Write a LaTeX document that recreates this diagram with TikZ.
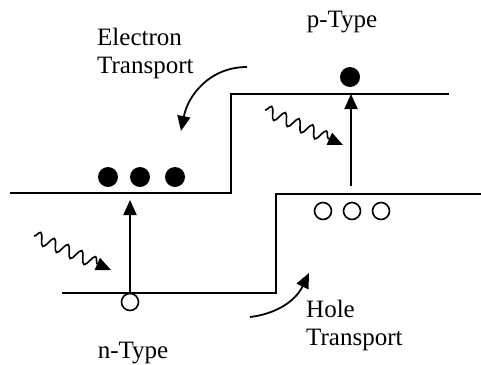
\documentclass[tikz,border=0pt]{standalone}
\usepackage{fontspec}
\setmainfont{Liberation Serif}
\usetikzlibrary{arrows.meta,decorations.pathmorphing}
\begin{document}
\begin{tikzpicture}[x=1pt,y=-1pt,
  band/.style={line width=2pt},
  tip/.style={-{Triangle[length=15pt,width=13pt]}},
  vert/.style={line width=2pt,tip},
  wave/.style={line width=1.6pt,decorate,decoration={snake,segment length=15pt,amplitude=6pt,post length=12pt}},
  curv/.style={line width=1.8pt,tip},
  elec/.style={circle,fill=black,minimum size=20pt,inner sep=0pt},
  hole/.style={circle,draw=black,line width=1.6pt,minimum size=17pt,inner sep=0pt},
  lab/.style={font=\fontsize{25}{28}\selectfont,align=left,inner sep=0pt}]
\useasboundingbox (0,0) rectangle (481,364);
% bands
\coordinate (c1) at (10,193);
\coordinate (c2) at (231,193);
\coordinate (c3) at (231,94);
\coordinate (c4) at (449,94);
\coordinate (v1) at (62,293);
\coordinate (v2) at (276,293);
\coordinate (v3) at (276,194);
\coordinate (v4) at (481,194);
\draw[band] (c1) -- (c2) -- (c3) -- (c4);
\draw[band] (v1) -- (v2) -- (v3) -- (v4);
% electrons
\node[elec] (e1) at (108,177) {};
\node[elec] (e2) at (140,177) {};
\node[elec] (e3) at (175,177) {};
\node[elec] (e4) at (350,77) {};
% holes
\node[hole] (h1) at (130,302) {};
\node[hole] (h2) at (323,211) {};
\node[hole] (h3) at (352,211) {};
\node[hole] (h4) at (381,211) {};
% vertical excitation arrows
\coordinate (a1s) at (130,293);
\coordinate (a1e) at (130,200);
\coordinate (a2s) at (351,186);
\coordinate (a2e) at (351,94);
\draw[vert] (a1s) -- (a1e);
\draw[vert] (a2s) -- (a2e);
% photons
\coordinate (p1s) at (34,236);
\coordinate (p1e) at (111,270);
\coordinate (p2s) at (265,110);
\coordinate (p2e) at (343,145);
\draw[wave,tip] (p1s) -- (p1e);
\draw[wave,tip] (p2s) -- (p2e);
% labels
\node[lab,anchor=base west] (et) at (97,73) {Electron\\Transport};
\node[lab,anchor=base] (pt) at (342,27) {p-Type};
\node[lab,anchor=base] (nt) at (133,358) {n-Type};
\node[lab,anchor=base west] (ht) at (306,345) {Hole\\Transport};
% transport arrows
\coordinate (ea) at (247,67);
\coordinate (eb) at (181,131);
\draw[curv] (ea) .. controls (210,67) and (188,95) .. (eb);
\coordinate (ha) at (250,317);
\coordinate (hb) at (309,273);
\draw[curv] (ha) .. controls (275,314) and (295,302) .. (hb);
\end{tikzpicture}
\end{document}
